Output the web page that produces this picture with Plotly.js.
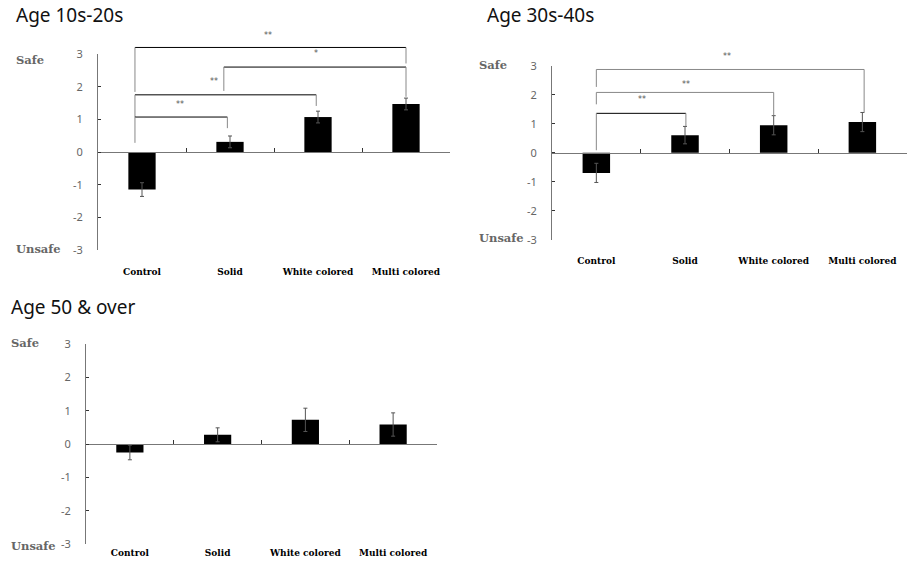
<!DOCTYPE html>
<html><head><meta charset="utf-8">
<script src="https://cdn.plot.ly/plotly-3.0.1.min.js"></script>
<style>html,body{margin:0;padding:0;background:#fff}#chart{width:915px;height:563px}</style>
</head><body><div id="chart"></div>
<script>
const W = 915, H = 563;

// ---- data ----
const categories = ['Control', 'Solid', 'White colored', 'Multi colored'];
const titles = ['Age 10s-20s', 'Age 30s-40s', 'Age 50 & over'];
const yTicks = [-3, -2, -1, 0, 1, 2, 3];
const yTickText = ['-3', '-2', '-1', '0', '1', '2', '3'];
const safeLabels = ['Safe', 'Unsafe'];

const mean1020 = [-1.15, 0.31, 1.07, 1.47];
const err1020  = [0.21, 0.18, 0.18, 0.18];
const mean3040 = [-0.69, 0.61, 0.95, 1.06];
const err3040  = [0.33, 0.30, 0.33, 0.33];
const mean50   = [-0.25, 0.28, 0.73, 0.59];
const err50    = [0.22, 0.21, 0.35, 0.35];

// significance brackets: [fromIdx, toIdx, level, leftLegEnd, rightLegEnd, label, labelIdx, labelLevel]
const sig1020 = [
  [-0.08, 3.00, 3.20, 1.84, 2.71, '**', 1.43, 3.58],
  [ 0.93, 3.00, 2.60, 1.87, 1.69, '*',  1.98, 3.00],
  [-0.08, 1.98, 1.75, 1.07, 1.41, '**', 0.82, 2.17],
  [-0.08, 0.97, 1.07, 0.28, 0.73, '**', 0.43, 1.44]
];
const sig3040 = [
  [0.00, 3.02, 2.87, 2.27, 1.39, '**', 1.47, 3.33],
  [0.00, 2.00, 2.08, 1.67, 1.29, '**', 1.01, 2.35],
  [0.00, 1.01, 1.36, 0.09, 0.92, '**', 0.52, 1.85]
];
const sig50 = [];

// ---- styling / layout ----
const panels = [
  {title: titles[0], mean: mean1020, err: err1020, sig: sig1020, hcol: ['#000', '#000', '#000', '#000'],
   box: {l: 98, r: 450, t: 54, b: 250}, titleXY: [14, 15], safeX: 14, safeY: [60, 249], catY: 273},
  {title: titles[1], mean: mean3040, err: err3040, sig: sig3040, hcol: ['#888', '#888', '#000'],
   box: {l: 552, r: 906.7, t: 65.7, b: 240}, titleXY: [485, 15], safeX: 477, safeY: [65, 238], catY: 262},
  {title: titles[2], mean: mean50, err: err50, sig: sig50, hcol: [],
   box: {l: 86, r: 437, t: 344.3, b: 544}, titleXY: [9, 307], safeX: 9, safeY: [343, 546], catY: 554}
];

const xRange = [-0.5, categories.length - 0.5];
const yRange = [-3, 3];
const fx = i => (i - xRange[0]) / (xRange[1] - xRange[0]);
const fy = v => (v - yRange[0]) / (yRange[1] - yRange[0]);

const traces = [];
const layout = {
  width: W, height: H, margin: {l: 0, r: 0, t: 0, b: 0},
  paper_bgcolor: '#fff', plot_bgcolor: 'rgba(0,0,0,0)',
  showlegend: false, bargap: 0.69,
  shapes: [], annotations: []
};

const serif = 'DejaVu Serif, Liberation Serif, serif';

panels.forEach((p, k) => {
  const n = k + 1;
  const xa = n === 1 ? 'x' : 'x' + n;
  const ya = n === 1 ? 'y' : 'y' + n;
  const xo = 'x' + (n + 3);
  const xd = [p.box.l / W, p.box.r / W];
  const yd = [1 - p.box.b / H, 1 - p.box.t / H];
  const idx = categories.map((c, i) => i);

  traces.push({
    type: 'bar', x: idx, y: p.mean, xaxis: xa, yaxis: ya,
    marker: {color: '#000', line: {width: 0}},
    error_y: {type: 'data', array: p.err, visible: true, color: '#555', thickness: 1, width: 2},
    hoverinfo: 'skip'
  });
  traces.push({
    type: 'scatter', mode: 'markers', x: [0], y: [0], xaxis: xo, yaxis: ya,
    marker: {opacity: 0}, hoverinfo: 'skip'
  });

  const catGap = (p.catY - p.box.b);
  layout['xaxis' + (n === 1 ? '' : n)] = {
    domain: xd, anchor: ya, range: xRange, type: 'linear',
    tickvals: idx, ticktext: categories, ticks: '', showline: false,
    showgrid: false, zeroline: false,
    ticklabelstandoff: Math.max(0, catGap - 8),
    tickfont: {family: serif, size: 9, color: '#000', weight: 'bold'}
  };
  layout['yaxis' + (n === 1 ? '' : n)] = {
    domain: yd, anchor: xa, range: yRange, tickvals: yTicks, ticktext: yTickText,
    showline: true, linecolor: '#777', linewidth: 1,
    ticks: 'inside', ticklen: 3, tickcolor: '#333',
    showgrid: false, zeroline: false, ticklabelstandoff: 12,
    tickfont: {family: 'Noto Sans', size: 11, color: '#666'}
  };
  layout['xaxis' + (n + 3)] = {
    overlaying: xa, anchor: 'free', position: (yd[0] + yd[1]) / 2,
    domain: xd, range: xRange, type: 'linear',
    tickvals: idx.map(i => i + 0.5), ticks: 'inside', ticklen: 4, tickcolor: '#333',
    showticklabels: false, showline: true, linecolor: '#777', linewidth: 1,
    showgrid: false, zeroline: false
  };

  // brackets
  const xr = xa + ' domain', yr = ya + ' domain';
  p.sig.forEach((s, j) => {
    const [a, b, h, lb, rb, lab, lx, ly] = s;
    layout.shapes.push({type: 'line', xref: xr, yref: yr, x0: fx(a), x1: fx(b), y0: fy(h), y1: fy(h),
      line: {color: p.hcol[j], width: 1}});
    layout.shapes.push({type: 'line', xref: xr, yref: yr, x0: fx(a), x1: fx(a), y0: fy(lb), y1: fy(h),
      line: {color: '#888', width: 1}});
    layout.shapes.push({type: 'line', xref: xr, yref: yr, x0: fx(b), x1: fx(b), y0: fy(rb), y1: fy(h),
      line: {color: '#888', width: 1}});
    layout.annotations.push({xref: xr, yref: yr, x: fx(lx), y: fy(ly), text: lab, showarrow: false,
      xanchor: 'center', yanchor: 'middle', font: {family: 'DejaVu Sans', size: 8, color: '#555'}});
  });

  // titles
  layout.annotations.push({xref: 'paper', yref: 'paper', x: p.titleXY[0] / W, y: 1 - p.titleXY[1] / H,
    text: p.title, showarrow: false, xanchor: 'left', yanchor: 'middle',
    font: {family: 'Noto Sans', size: 19, color: '#111'}});
  // safe / unsafe
  safeLabels.forEach((t, m) => {
    layout.annotations.push({xref: 'paper', yref: 'paper', x: p.safeX / W, y: 1 - p.safeY[m] / H,
      text: t, showarrow: false, xanchor: 'left', yanchor: 'middle',
      font: {family: serif, size: 11.5, color: '#666', weight: 'bold'}});
  });
});

Plotly.newPlot('chart', traces, layout, {staticPlot: true, displayModeBar: false});
</script>
</body></html>
